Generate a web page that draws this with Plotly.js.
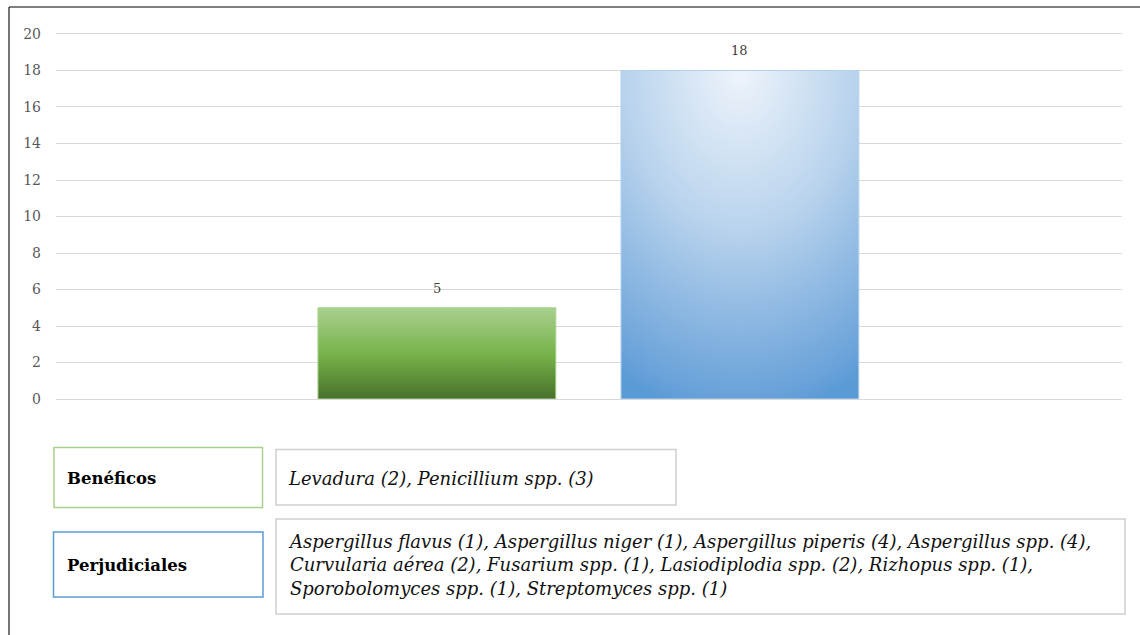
<!DOCTYPE html>
<html>
<head>
<meta charset="utf-8">
<script src="https://cdn.plot.ly/plotly-3.0.1.min.js"></script>
<style>
  html, body { margin: 0; padding: 0; background: #ffffff; }
  #chart { width: 1140px; height: 635px; }
</style>
</head>
<body>
<div id="chart"></div>
<script>
// Groups of microorganisms and how many isolates fall in each
const categories = ['Benéficos', 'Perjudiciales'];
const counts = [5, 18];
const yTickValues = [0, 2, 4, 6, 8, 10, 12, 14, 16, 18, 20];

// Taxa listed next to each group, one entry per printed line
const beneficialLines = ['Levadura (2), Penicillium spp. (3)'];
const harmfulLines = [
  'Aspergillus flavus (1), Aspergillus niger (1), Aspergillus piperis (4), Aspergillus spp. (4),',
  'Curvularia aérea (2), Fusarium spp. (1), Lasiodiplodia spp. (2), Rizhopus spp. (1),',
  'Sporobolomyces spp. (1), Streptomyces spp. (1)'
];

// Layout geometry (pixels); the value axis runs a little past 20 so its top gridline shows
const W = 1140, H = 635;
const plotLeft = 56, plotRight = 1122, plotTop = 31, plotBottom = 399;
const yMax = 20.164;
const px = x => (x - plotLeft) / (plotRight - plotLeft);
const py = y => (plotBottom - y) / (plotBottom - plotTop);

const serif = 'DejaVu Serif, serif';

function box(x0, y0, x1, y1, color, width) {
  return {
    type: 'rect', xref: 'paper', yref: 'paper',
    x0: px(x0), x1: px(x1), y0: py(y1), y1: py(y0),
    line: { color: color, width: width }, fillcolor: 'rgba(0,0,0,0)', layer: 'above'
  };
}
function frameLine(x0, y0, x1, y1, color, width) {
  return {
    type: 'line', xref: 'paper', yref: 'paper',
    x0: px(x0), x1: px(x1), y0: py(y0), y1: py(y1),
    line: { color: color, width: width }, layer: 'above'
  };
}

const trace = {
  type: 'bar',
  x: categories,
  y: counts,
  marker: {
    color: ['#77b24a', '#8ab7e3'],
    line: { color: ['#a9d18e', '#b4d2ee'], width: 1 }
  },
  hoverinfo: 'x+y',
  showlegend: false
};

// value labels sitting above each bar
const valueLabels = categories.map((c, i) => ({
  x: c, y: counts[i], xref: 'x', yref: 'y',
  text: String(counts[i]), showarrow: false,
  yanchor: 'bottom', yshift: 10,
  font: { family: serif, size: 13, color: '#404040' }
}));

const groupLabel = (text, yCenter) => ({
  xref: 'paper', yref: 'paper', x: px(65), y: py(yCenter),
  xanchor: 'left', yanchor: 'middle', showarrow: false,
  text: '<b>' + text + '</b>',
  font: { family: serif, size: 16.5, color: '#000000' }
});
const taxaLabel = (lines, yCenter) => ({
  xref: 'paper', yref: 'paper', x: px(286), y: py(yCenter),
  xanchor: 'left', yanchor: 'middle', align: 'left', showarrow: false,
  text: lines.map(l => '<i>' + l + '</i>').join('<br>'),
  font: { family: serif, size: 18, color: '#111111' }
});

const layout = {
  width: W, height: H,
  margin: { l: plotLeft, r: W - plotRight, t: plotTop, b: H - plotBottom, pad: 0 },
  paper_bgcolor: '#ffffff',
  plot_bgcolor: '#ffffff',
  bargap: 0.215,
  xaxis: {
    type: 'category',
    range: [-1.257, 2.261],
    showticklabels: false, ticks: '', showgrid: false,
    zeroline: false, showline: false, fixedrange: true
  },
  yaxis: {
    range: [0, yMax],
    tickvals: yTickValues,
    ticks: '',
    ticklabelstandoff: 14,
    showgrid: true, gridcolor: '#d9d9d9', gridwidth: 1,
    zeroline: true, zerolinecolor: '#d9d9d9', zerolinewidth: 1,
    showline: false,
    tickfont: { family: serif, size: 14, color: '#595959' },
    fixedrange: true
  },
  shapes: [
    frameLine(9, 7, W + 5, 7, '#7f7f7f', 2),
    frameLine(9, 7, 9, H + 5, '#1a1a1a', 1.2),
    box(54, 447.5, 262.5, 507.5, '#a9d18e', 1.5),
    box(276, 449.5, 676, 505, '#d0d0d0', 1.5),
    box(53.5, 532, 263, 597, '#5b9bd5', 1.5),
    box(276, 519, 1125, 614, '#d0d0d0', 1.5)
  ],
  annotations: valueLabels.concat([
    groupLabel(categories[0], 478),
    groupLabel(categories[1], 565),
    taxaLabel(beneficialLines, 478),
    taxaLabel(harmfulLines, 565)
  ])
};

function svgEl(name, attrs) {
  const el = document.createElementNS('http://www.w3.org/2000/svg', name);
  Object.keys(attrs).forEach(k => el.setAttribute(k, attrs[k]));
  return el;
}

// shaded fills for the two bars
function applyGradients(gd) {
  const svg = gd.querySelector('.main-svg');
  let defs = svg.querySelector('defs');
  if (!defs) { defs = svgEl('defs', {}); svg.insertBefore(defs, svg.firstChild); }

  const green = svgEl('linearGradient', { id: 'barGreen', x1: '0', y1: '0', x2: '0', y2: '1' });
  [['0', '#a9d18e'], ['0.52', '#76b149'], ['1', '#47712b']].forEach(s =>
    green.appendChild(svgEl('stop', { offset: s[0], 'stop-color': s[1] })));

  const blue = svgEl('radialGradient', { id: 'barBlue', cx: '0.5', cy: '0', fx: '0.5', fy: '0', r: '1.05' });
  [['0', '#eef4fb'], ['0.45', '#bad4ed'], ['0.95', '#68a1d9'], ['1', '#5b9bd5']].forEach(s =>
    blue.appendChild(svgEl('stop', { offset: s[0], 'stop-color': s[1] })));

  defs.appendChild(green);
  defs.appendChild(blue);

  const fills = ['url(#barGreen)', 'url(#barBlue)'];
  gd.querySelectorAll('.barlayer .point path').forEach((p, i) => {
    p.style.fill = fills[i % fills.length];
    p.style.fillOpacity = 1;
  });
}

Plotly.newPlot('chart', [trace], layout, { displayModeBar: false, staticPlot: true })
  .then(applyGradients);
</script>
</body>
</html>
